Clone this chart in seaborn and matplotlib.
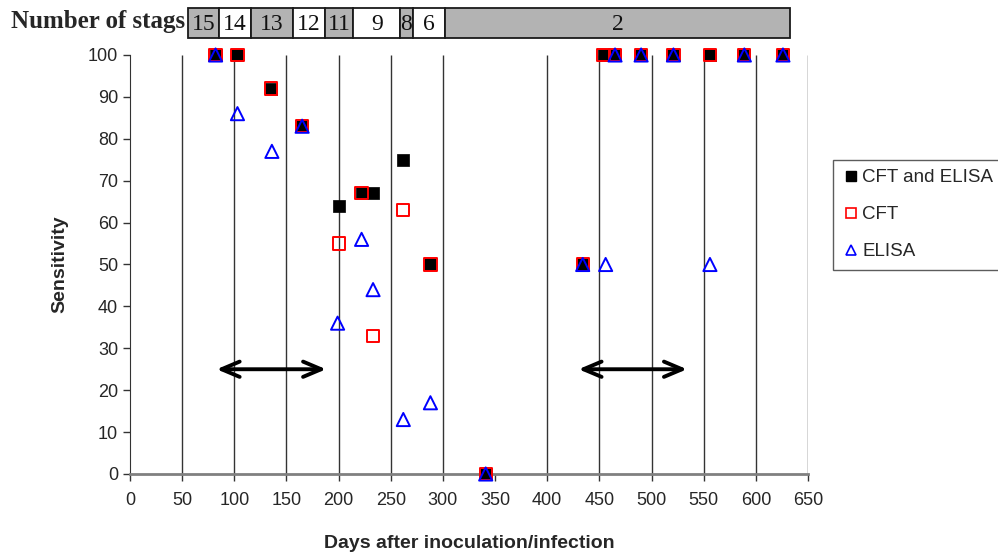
import matplotlib
matplotlib.use('Agg')
import matplotlib.pyplot as plt
import matplotlib.transforms as mtransforms
from matplotlib.patches import Rectangle
from matplotlib.lines import Line2D
import seaborn as sns
import pandas as pd

# days after inoculation / sensitivity (%)
both_days = [82, 103, 135, 165, 200, 222, 233, 262, 288, 341, 434, 454, 465, 490, 521, 556, 589, 626]
both_sens = [100, 100, 92, 83, 64, 67, 67, 75, 50, 0, 50, 100, 100, 100, 100, 100, 100, 100]

cft_days = [82, 103, 135, 165, 200, 222, 233, 262, 288, 341, 434, 454, 465, 490, 521, 556, 589, 626]
cft_sens = [100, 100, 92, 83, 55, 67, 33, 63, 50, 0, 50, 100, 100, 100, 100, 100, 100, 100]

elisa_days = [82, 103, 136, 165, 199, 222, 233, 262, 288, 341, 434, 456, 465, 490, 521, 556, 589, 626]
elisa_sens = [100, 86, 77, 83, 36, 56, 44, 13, 17, 0, 50, 50, 100, 100, 100, 50, 100, 100]

# stage bar on top (day boundaries, labels, shaded or not)
stage_edges = [56, 85, 116, 156, 187, 214, 259, 271, 302, 633]
stage_labels = ['15', '14', '13', '12', '11', '9', '8', '6', '2']
stage_grey = [True, False, True, False, True, False, True, False, True]

# vertical lines
grid_days = [50, 100, 150, 200, 250, 300, 400, 450, 500, 550, 600, 650]

# double arrows
arrow_from = [83, 430]
arrow_to = [188, 534]
arrow_y = 25

sns.set_style('ticks')
plt.rcParams['font.family'] = ['Liberation Sans', 'DejaVu Sans']

fig = plt.figure(figsize=(9.98, 5.56), dpi=100)
ax = fig.add_axes([0.1303, 0.1475, 0.6793, 0.7536])

ax.vlines(grid_days, 0, 100, color='#333333', lw=1.0, zorder=1)

df_both = pd.DataFrame({'day': both_days, 'sens': both_sens})
df_cft = pd.DataFrame({'day': cft_days, 'sens': cft_sens})
df_elisa = pd.DataFrame({'day': elisa_days, 'sens': elisa_sens})

sns.scatterplot(data=df_both, x='day', y='sens', ax=ax, marker='s', s=70,
                color='black', edgecolor='black', linewidth=0.5, zorder=3, clip_on=False)
sns.scatterplot(data=df_cft, x='day', y='sens', ax=ax, marker='s', s=78,
                facecolor='none', edgecolor='red', linewidth=1.4, zorder=4, clip_on=False)
sns.scatterplot(data=df_elisa, x='day', y='sens', ax=ax, marker='^', s=90,
                facecolor='none', edgecolor='blue', linewidth=1.4, zorder=5, clip_on=False)

for a, b in zip(arrow_from, arrow_to):
    ax.annotate('', xy=(b, arrow_y), xytext=(a, arrow_y),
                arrowprops=dict(arrowstyle='<->,head_length=1.3,head_width=0.55',
                                lw=2.8, color='black', shrinkA=0, shrinkB=0), zorder=6)

ax.set_xlim(0, 650)
ax.set_ylim(0, 100)
ax.set_xticks(range(0, 651, 50))
ax.set_yticks(range(0, 101, 10))
ax.tick_params(axis='both', labelsize=13, length=5, width=1, color='#333333')
ax.tick_params(axis='x', pad=8)
ax.set_xlabel('Days after inoculation/infection', fontsize=14, fontweight='bold', labelpad=19)
ax.set_ylabel('Sensitivity', fontsize=14, fontweight='bold', labelpad=14)

sns.despine(ax=ax, top=True, right=True)
ax.spines['left'].set_color('#333333')
ax.spines['bottom'].set_color('#808080')
ax.spines['bottom'].set_linewidth(2)

# stage bar above the plot
trans = mtransforms.blended_transform_factory(ax.transData, ax.transAxes)
y0, y1 = 1.0406, 1.112
for i, lab in enumerate(stage_labels):
    x0, x1 = stage_edges[i], stage_edges[i + 1]
    fc = '#b3b3b3' if stage_grey[i] else 'white'
    ax.add_patch(Rectangle((x0, y0), x1 - x0, y1 - y0, transform=trans, facecolor=fc,
                           edgecolor='#1a1a1a', lw=1.3, clip_on=False))
    ax.text((x0 + x1) / 2, (y0 + y1) / 2 - 0.003, lab, transform=trans, ha='center', va='center',
            fontsize=17, family=['Liberation Serif', 'DejaVu Serif'], color='#111111')
fig.text(0.011, 0.962, 'Number of stags', ha='left', va='center', fontsize=18,
         fontweight='bold', family=['Liberation Serif', 'DejaVu Serif'])

handles = [
    Line2D([], [], ls='none', marker='s', ms=7.5, color='black'),
    Line2D([], [], ls='none', marker='s', ms=7.5, mfc='none', mec='red', mew=1.2),
    Line2D([], [], ls='none', marker='^', ms=7.5, mfc='none', mec='blue', mew=1.2),
]
leg = fig.legend(handles, ['CFT and ELISA', 'CFT', 'ELISA'], loc='upper left',
                 bbox_to_anchor=(833 / 998, 1 - 160 / 556), fontsize=13.5, frameon=True,
                 fancybox=False, edgecolor='#333333', handletextpad=0.15, handlelength=0.9,
                 labelspacing=1.05, borderaxespad=0, borderpad=0.5)
leg.get_frame().set_linewidth(1.0)

fig.savefig('out.png', dpi=100)
